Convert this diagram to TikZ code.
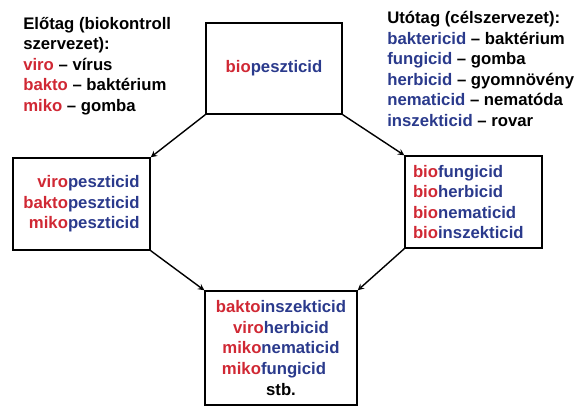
\documentclass[tikz,border=0pt]{standalone}
\usepackage{fontspec}
\setmainfont{Liberation Sans}
\usetikzlibrary{positioning}
\definecolor{prered}{RGB}{208,40,52}
\definecolor{sufblue}{RGB}{42,58,140}
\newcommand{\elotag}[1]{\textcolor{prered}{#1}}
\newcommand{\utotag}[1]{\textcolor{sufblue}{#1}}
\begin{document}
\begin{tikzpicture}[
		box/.style={draw,rectangle,line width=1pt,inner sep=0pt},
		txt/.style={font=\bfseries\fontsize{11.9}{14.6}\selectfont},
		link/.style={line width=1pt,->,>=stealth}]
		\useasboundingbox (0,0) rectangle (14.425,-10.2);

		% prefix and suffix legends
		\node[txt,anchor=west,align=left,inner sep=0pt] (pre) at (0.575,-1.65) {%
			Előtag (biokontroll\\szervezet):\\
			\elotag{viro} – vírus\\
			\elotag{bakto} – baktérium\\
			\elotag{miko} – gomba};
		\node[txt,anchor=west,align=left,inner sep=0pt] (suf) at (9.675,-1.725) {%
			Utótag (célszervezet):\\
			\utotag{baktericid} – baktérium\\
			\utotag{fungicid} – gomba\\
			\utotag{herbicid} – gyomnövény\\
			\utotag{nematicid} – nematóda\\
			\utotag{inszekticid} – rovar};

		% the four boxes
		\node[box,txt,minimum width=3.4cm,minimum height=2.275cm] (bio) at (6.85,-1.7125)
			{\elotag{bio}\utotag{peszticid}};
		\node[box,txt,align=right,minimum width=3.425cm,minimum height=2.3cm] (left) at (2.0375,-5.1) {%
			\elotag{viro}\utotag{peszticid}\\
			\elotag{bakto}\utotag{peszticid}\\
			\elotag{miko}\utotag{peszticid}};
		\node[box,txt,align=left,text width=3.025cm,minimum width=3.425cm,minimum height=2.3cm] (right) at (11.8375,-5.05) {%
			\elotag{bio}\utotag{fungicid}\\
			\elotag{bio}\utotag{herbicid}\\
			\elotag{bio}\utotag{nematicid}\\
			\elotag{bio}\utotag{inszekticid}};
		\node[box,txt,align=center,minimum width=3.8cm,minimum height=2.85cm] (comb) at (7.025,-8.7) {%
			\elotag{bakto}\utotag{inszekticid}\\
			\elotag{viro}\utotag{herbicid}\\
			\elotag{miko}\utotag{nematicid}\\
			\elotag{miko}\utotag{fungicid}\rule{0.35cm}{0pt}\\
			stb.};

		% connectors
		\draw[link] (bio.south west) -- (left.north east);
		\draw[link] (bio.south east) -- (right.north west);
		\draw[link] (left.south east) -- (comb.north west);
		\draw[link] (right.south west) -- (comb.north east);
	\end{tikzpicture}
\end{document}
